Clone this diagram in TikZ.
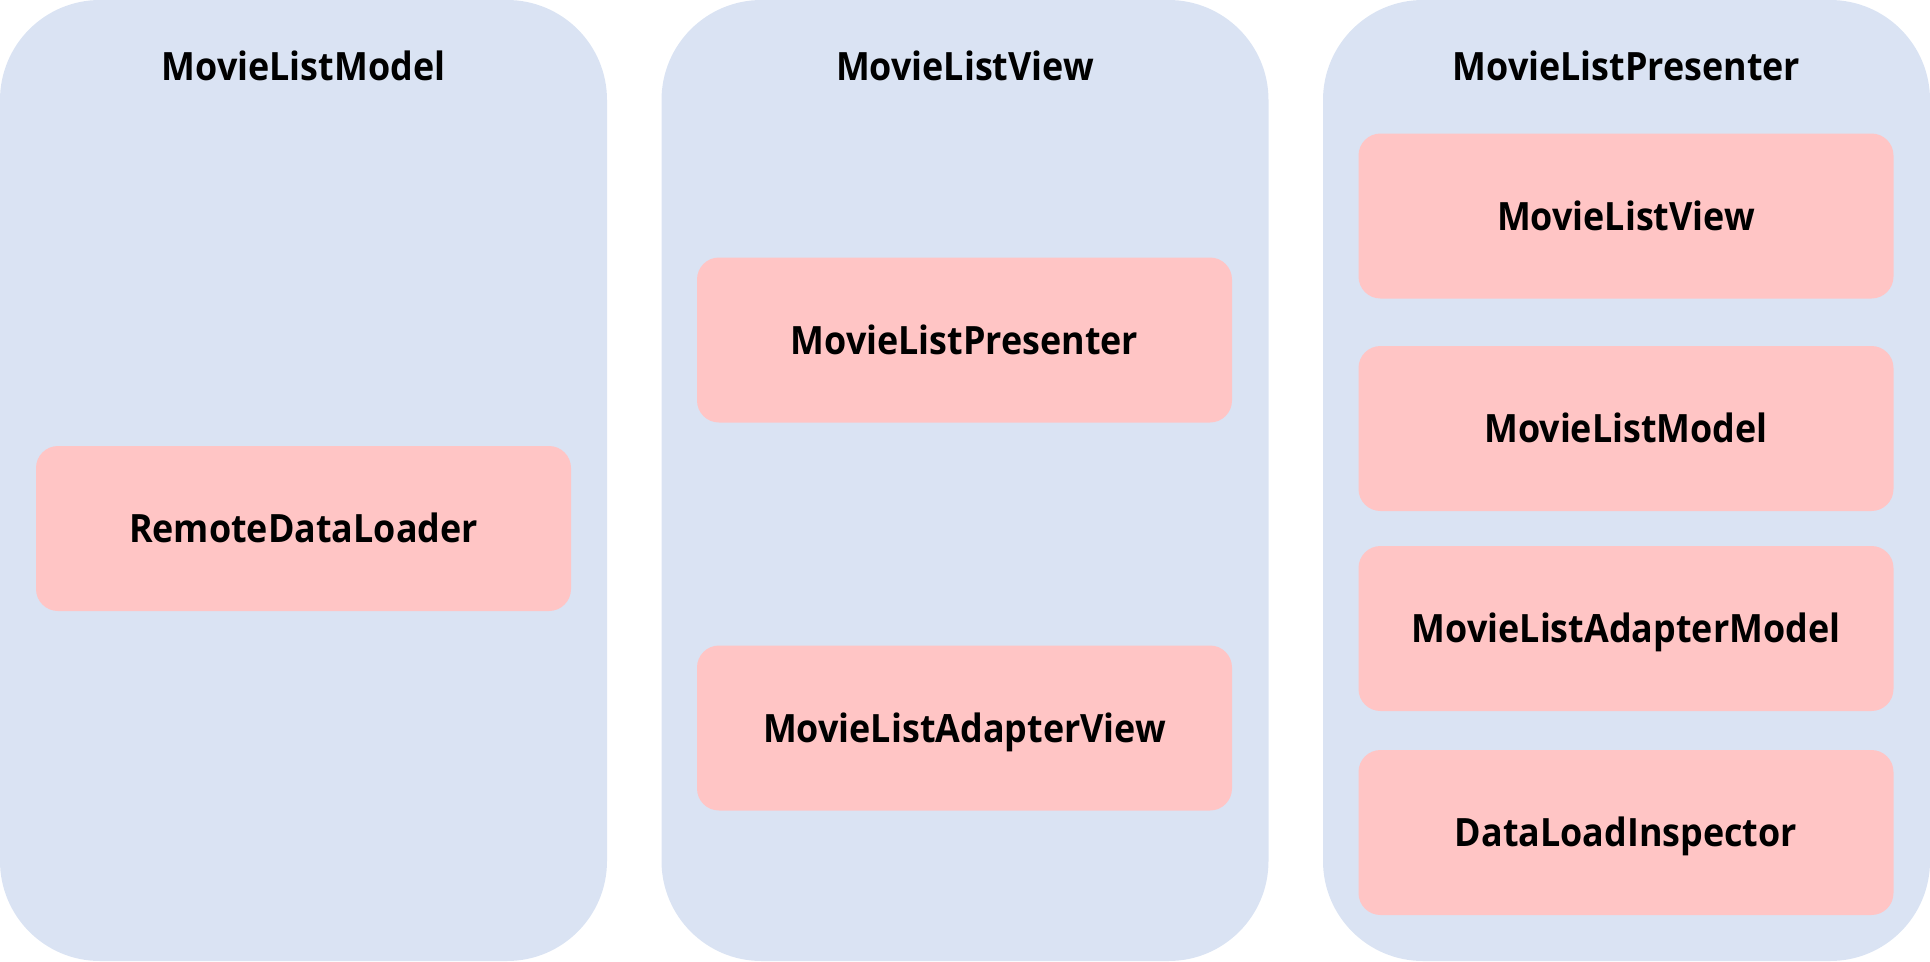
\documentclass[tikz,border=0pt]{standalone}
\usepackage{fontspec}
\setmainfont{Open Sans}[BoldFeatures={FakeStretch=0.92}]
\definecolor{colfill}{HTML}{DAE3F3}
\definecolor{boxfill}{HTML}{FFC5C5}
\begin{document}
\begin{tikzpicture}[x=1pt,y=-1pt,
  lbl/.style={font=\fontsize{39}{39}\selectfont\bfseries, text height=28pt, text depth=0pt, inner sep=0pt},
  column/.style={fill=colfill, rounded corners=100pt, minimum width=607pt, minimum height=961pt, inner sep=0pt},
  item/.style={lbl, fill=boxfill, rounded corners=22pt, minimum width=535pt, minimum height=165pt},
  title/.style={lbl}]
\useasboundingbox (0,0) rectangle (1930,961);
\node[column] (c1) at (303.5,480.5) {};
\node[column] (c2) at (965,480.5) {};
\node[column] (c3) at (1626.5,480.5) {};
\node[title] (t1) at (303.5,66) {MovieListModel};
\node[title] (t2) at (965,66) {MovieListView};
\node[title] (t3) at (1626.5,66) {MovieListPresenter};
\node[item] (rdl) at (303.5,528.5) {RemoteDataLoader};
\node[item] (mlp) at (964.5,340) {MovieListPresenter};
\node[item] (mlav) at (964.5,728) {MovieListAdapterView};
\node[item] (mlv) at (1626,216) {MovieListView};
\node[item] (mlm) at (1626,428.5) {MovieListModel};
\node[item] (mlam) at (1626,628.5) {MovieListAdapterModel};
\node[item] (dli) at (1626,832.5) {DataLoadInspector};
\end{tikzpicture}
\end{document}
